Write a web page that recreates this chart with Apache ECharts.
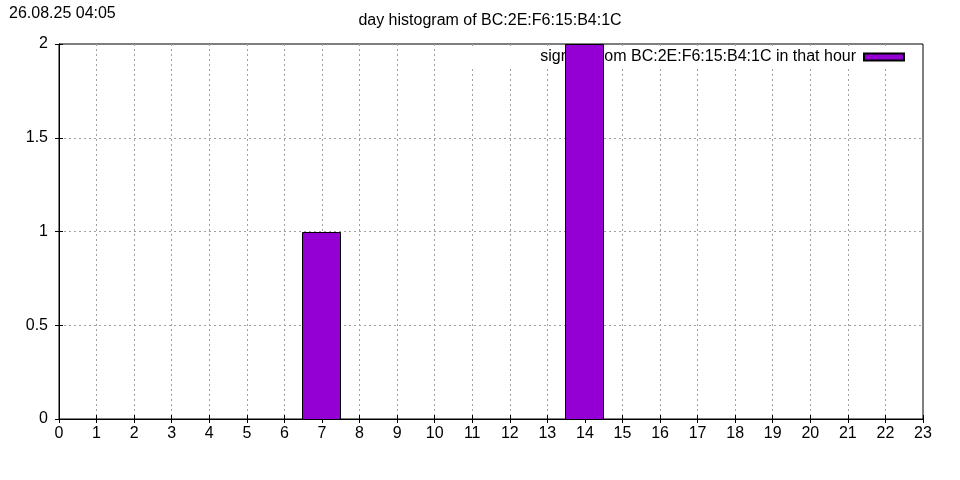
<!DOCTYPE html>
<html>
<head>
<meta charset="utf-8">
<script src="https://cdn.jsdelivr.net/npm/echarts@6/dist/echarts.min.js"></script>
<style>html,body{margin:0;padding:0;background:#fff}#c{width:960px;height:480px}</style>
</head>
<body>
<div id="c"></div>
<script>
const hours = [0,1,2,3,4,5,6,7,8,9,10,11,12,13,14,15,16,17,18,19,20,21,22,23];
const counts = [0,0,0,0,0,0,0,1,0,0,0,0,0,0,2,0,0,0,0,0,0,0,0,0];
const seriesName = 'signals from BC:2E:F6:15:B4:1C in that hour';
const titleText = 'day histogram of BC:2E:F6:15:B4:1C';
const stampText = '26.08.25 04:05';

const FONT = "'Liberation Sans', Arial, sans-serif";
const data = hours.map((h, i) => [h, counts[i]]).filter(d => d[1] !== 0);
const chart = echarts.init(document.getElementById('c'), null, {renderer: 'canvas'});
const grid = '#a0a0a0';
const tick = {show: true, inside: true, length: 4, lineStyle: {color: '#000', width: 1}};
chart.setOption({
  animation: false,
  backgroundColor: '#fff',
  textStyle: {fontFamily: FONT},
  graphic: [
    {type: 'text', left: 9, top: 6, style: {text: stampText, font: '16px ' + FONT, fill: '#000'}},
    {type: 'text', x: 490, y: 13, style: {text: titleText, font: '16px ' + FONT, fill: '#000', textAlign: 'center'}}
  ],
  grid: {left: 59, right: 37, top: 44, bottom: 61, show: true, borderColor: '#000', borderWidth: 1, backgroundColor: 'transparent'},
  legend: {
    show: true, z: 1, zlevel: 0,
    right: 42, top: 49, align: 'right',
    padding: [0, 13, 1, 80],
    backgroundColor: '#fff',
    icon: 'rect', itemWidth: 40, itemHeight: 7,
    textStyle: {fontFamily: FONT, fontSize: 16, color: '#000', padding: [0, 3, 0, 0]},
    data: [seriesName]
  },
  xAxis: [
    {type: 'value', min: 0, max: 23, interval: 1, position: 'bottom',
     axisLine: {show: true, lineStyle: {color: '#000'}}, axisTick: tick,
     axisLabel: {color: '#000', fontSize: 16, fontFamily: FONT, margin: 7},
     splitLine: {show: true, showMinLine: false, showMaxLine: false, lineStyle: {color: grid, type: [2, 3], width: 1}}},
    {type: 'value', min: 0, max: 23, interval: 1, position: 'top',
     axisLine: {show: true, lineStyle: {color: '#000'}}, axisTick: tick, axisLabel: {show: false}, splitLine: {show: false}}
  ],
  yAxis: [
    {type: 'value', min: 0, max: 2, interval: 0.5, position: 'left',
     axisLine: {show: true, lineStyle: {color: '#000'}}, axisTick: tick,
     axisLabel: {color: '#000', fontSize: 16, fontFamily: FONT, margin: 11},
     splitLine: {show: true, showMinLine: false, showMaxLine: false, lineStyle: {color: grid, type: [2, 3], width: 1}}},
    {type: 'value', min: 0, max: 2, interval: 0.5, position: 'right',
     axisLine: {show: true, lineStyle: {color: '#000'}}, axisTick: tick, axisLabel: {show: false}, splitLine: {show: false}}
  ],
  series: [{
    name: seriesName,
    type: 'custom',
    z: 3,
    xAxisIndex: 0, yAxisIndex: 0,
    itemStyle: {color: '#9400d3', borderColor: '#000', borderWidth: 1},
    encode: {x: 0, y: 1},
    data: data,
    renderItem: function (params, api) {
      const x = api.value(0), v = api.value(1);
      const p0 = api.coord([x - 0.5, v]);
      const p1 = api.coord([x + 0.5, 0]);
      const x0 = Math.round(p0[0] - 0.3), x1 = Math.round(p1[0]);
      return {
        type: 'rect',
        shape: {x: x0 - 0.5, y: Math.round(p0[1]) + 0.5, width: x1 - x0, height: Math.round(p1[1]) - Math.round(p0[1])},
        style: {fill: '#9400d3', stroke: '#000', lineWidth: 1}
      };
    }
  }]
});
</script>
</body>
</html>
